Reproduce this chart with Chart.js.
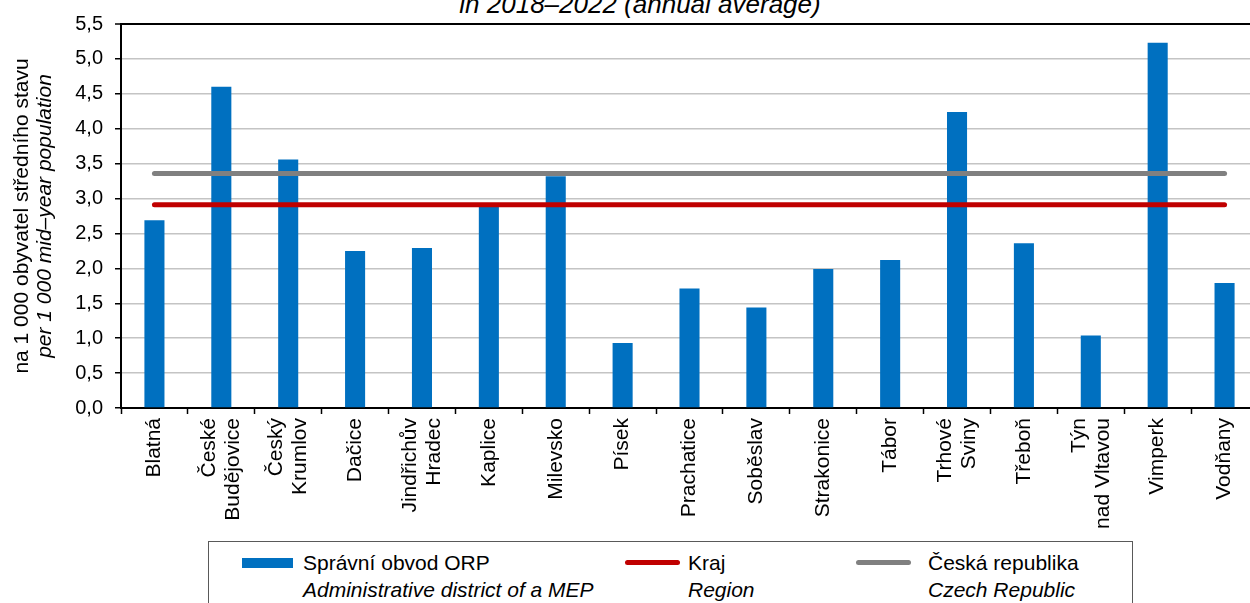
<!DOCTYPE html>
<html>
<head>
<meta charset="utf-8">
<script src="https://cdn.jsdelivr.net/npm/chart.js@4"></script>
<style>
  body { margin: 0; width: 1250px; height: 603px; overflow: hidden; background: #fff; position: relative;
         font-family: "Liberation Sans", Arial, sans-serif; }
  #title { position: absolute; top: -9px; left: 0; width: 1280px; text-align: center;
           font-style: italic; font-size: 26px; line-height: 26px; color: #000; }
  #wrap { position: absolute; top: 0; left: 0; width: 1260px; height: 540px; }
  #legend { position: absolute; left: 208px; top: 541px; width: 923px; height: 80px;
            border: 1.5px solid #595959; background: #fff; }
  .sw { position: absolute; }
  .lt { position: absolute; font-size: 21px; line-height: 24px; color: #000; white-space: nowrap; }
  .lt i { display: block; margin-top: 3px; }
</style>
</head>
<body>
<div id="title">in 2018–2022 (annual average)</div>
<div id="wrap"><canvas id="chart" width="1260" height="540"></canvas></div>
<div id="legend">
  <div class="sw" style="left:33px; top:16px; width:51px; height:10px; background:#0070c0;"></div>
  <div class="lt" style="left:94px; top:9px;">Správní obvod ORP<i>Administrative district of a MEP</i></div>
  <div class="sw" style="left:416px; top:18px; width:55px; height:5px; border-radius:3px; background:#c00000;"></div>
  <div class="lt" style="left:479px; top:9px;">Kraj<i>Region</i></div>
  <div class="sw" style="left:647px; top:18px; width:55px; height:5px; border-radius:3px; background:#808080;"></div>
  <div class="lt" style="left:719px; top:9px;">Česká republika<i>Czech Republic</i></div>
</div>
<script>
// ORP districts of the South Bohemian region
const categories = [
    ['Blatná'], ['České', 'Budějovice'], ['Český', 'Krumlov'], ['Dačice'],
    ['Jindřichův', 'Hradec'], ['Kaplice'], ['Milevsko'], ['Písek'], ['Prachatice'],
    ['Soběslav'], ['Strakonice'], ['Tábor'], ['Trhové', 'Sviny'], ['Třeboň'],
    ['Týn', 'nad Vltavou'], ['Vimperk'], ['Vodňany']
];
const orpValues = [2.69, 4.60, 3.56, 2.25, 2.29, 2.89, 3.32, 0.93, 1.71, 1.44, 1.99, 2.12, 4.24, 2.36, 1.04, 5.23, 1.79];
const krajValue = 2.91;   // region average
const czValue = 3.36;     // Czech Republic average
const yTicks = [0, 0.5, 1, 1.5, 2, 2.5, 3, 3.5, 4, 4.5, 5, 5.5];

const FONT = '"Liberation Sans", Arial, sans-serif';
const PLOT_LEFT = 121, PLOT_BOTTOM = 408, CANVAS_H = 540;

// y axis title (two lines, second one italic) + x labels centred as a block
const customText = {
    id: 'customText',
    afterDraw(chart) {
        const ctx = chart.ctx;
        const area = chart.chartArea;
        const midY = (area.top + area.bottom) / 2;
        ctx.save();
        ctx.fillStyle = '#000';
        ctx.textAlign = 'center';
        ctx.textBaseline = 'middle';
        ctx.translate(22, midY);
        ctx.rotate(-Math.PI / 2);
        ctx.font = '21px ' + FONT;
        ctx.fillText('na 1 000 obyvatel středního stavu', 0, 0);
        ctx.font = 'italic 21px ' + FONT;
        ctx.fillText('per 1 000 mid–year population', 0, 23);
        ctx.restore();

        const xs = chart.scales.x;
        const lh = 24;
        ctx.save();
        ctx.fillStyle = '#000';
        ctx.font = '21px ' + FONT;
        ctx.textAlign = 'right';
        ctx.textBaseline = 'middle';
        categories.forEach((lines, i) => {
            const cx = xs.getPixelForValue(i);
            lines.forEach((txt, j) => {
                const x = cx + (j - (lines.length - 1) / 2) * lh;
                ctx.save();
                ctx.translate(x, area.bottom + 10);
                ctx.rotate(-Math.PI / 2);
                ctx.fillText(txt, 0, 0);
                ctx.restore();
            });
        });
        ctx.restore();
    }
};

const ctx = document.getElementById('chart').getContext('2d');
const myChart = new Chart(ctx, {
    data: {
        labels: categories.map(c => c.join(' ')),
        datasets: [
            {
                type: 'line',
                label: 'Česká republika',
                data: categories.map(() => czValue),
                borderColor: '#808080',
                borderWidth: 5,
                borderCapStyle: 'round',
                pointRadius: 0,
                order: 1
            },
            {
                type: 'line',
                label: 'Kraj',
                data: categories.map(() => krajValue),
                borderColor: '#c00000',
                borderWidth: 5,
                borderCapStyle: 'round',
                pointRadius: 0,
                order: 2
            },
            {
                type: 'bar',
                label: 'Správní obvod ORP',
                data: orpValues,
                backgroundColor: '#0070c0',
                borderWidth: 0,
                categoryPercentage: 1,
                barPercentage: 0.3,
                order: 3
            }
        ]
    },
    options: {
        responsive: false,
        animation: false,
        devicePixelRatio: 1,
        layout: { padding: { top: 22, right: 2, left: 0, bottom: 0 } },
        plugins: {
            legend: { display: false },
            title: { display: false },
            tooltip: { enabled: false }
        },
        scales: {
            x: {
                type: 'category',
                offset: true,
                grid: {
                    offset: true,
                    drawOnChartArea: false,
                    tickLength: 6,
                    tickColor: '#000',
                    tickWidth: 1.5
                },
                border: { color: '#000', width: 2 },
                ticks: { display: false },
                afterFit: scale => { scale.height = CANVAS_H - PLOT_BOTTOM; }
            },
            y: {
                min: 0,
                max: 5.5,
                afterBuildTicks: scale => { scale.ticks = yTicks.map(v => ({ value: v })); },
                grid: {
                    color: c => (c.tick && c.tick.value === 5.5) ? '#000' : '#c4c4c4',
                    lineWidth: c => (c.tick && c.tick.value === 5.5) ? 2 : 1.5,
                    tickColor: '#000',
                    tickLength: 6,
                    tickWidth: 1.5
                },
                border: { color: '#000', width: 2 },
                ticks: {
                    color: '#000',
                    padding: 12,
                    font: { family: FONT, size: 20 },
                    callback: v => v.toFixed(1).replace('.', ',')
                },
                afterFit: scale => { scale.width = PLOT_LEFT; }
            }
        }
    },
    plugins: [customText]
});
</script>
</body>
</html>
